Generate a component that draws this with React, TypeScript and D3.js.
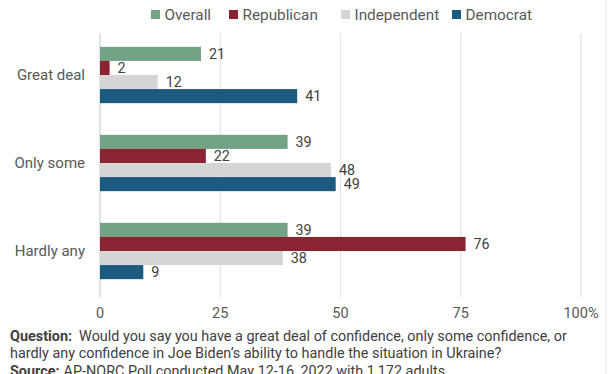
import React from "react";
import * as d3 from "d3";

const categories = ["Great deal", "Only some", "Hardly any"];
const seriesNames = ["Overall", "Republican", "Independent", "Democrat"];
const seriesColors = ["#72a387", "#8a2432", "#d5d5d5", "#1b5b80"];
const overall = [21, 39, 39];
const republican = [2, 22, 76];
const independent = [12, 48, 38];
const democrat = [41, 49, 9];
const tickValues = [0, 25, 50, 75, 100];
const tickLabels = ["0", "25", "50", "75", "100%"];

const W = 612;
const H = 374;
const font = "Roboto, 'Noto Sans', sans-serif";

export default function App() {
  const series = [overall, republican, independent, democrat];
  const x = d3.scaleLinear().domain([0, 100]).range([100, 581]);
  const y0 = d3.scaleBand().domain(categories).range([31, 295]).paddingInner(0.36).paddingOuter(0.18);
  const y1 = d3.scaleBand().domain(seriesNames).range([0, y0.bandwidth()]);

  const legendX = [151, 229, 341, 452];

  return (
    <svg width={W} height={H} style={{ position: "absolute", left: 0, top: 0, background: "#fff" }} fontFamily={font}>
      <rect x={0} y={0} width={W} height={H} fill="#fff" />
      {/* legend */}
      {seriesNames.map((s, i) => (
        <g key={s}>
          <rect x={legendX[i]} y={10} width={9} height={9} fill={seriesColors[i]} />
          <text x={legendX[i] + 13.5} y={19.5} fontSize={15.3} fill="#595959">{s}</text>
        </g>
      ))}
      {/* gridlines */}
      {tickValues.map((t) => (
        <line key={t} x1={x(t)} x2={x(t)} y1={33} y2={297} stroke={t === 0 ? "#d0d0d0" : "#e3e3e3"} strokeWidth={1.2} />
      ))}
      {/* tick labels */}
      {tickValues.map((t, i) => (
        <text key={t} x={x(t)} y={318} fontSize={14.5} fill="#595959" textAnchor="middle">
          {tickLabels[i]}
        </text>
      ))}
      {/* bars */}
      {categories.map((c, ci) => (
        <g key={c} transform={`translate(0,${y0(c)})`}>
          {series.map((vals, si) => {
            const v = vals[ci];
            const yy = y1(seriesNames[si])!;
            return (
              <g key={si}>
                <rect x={x(0)} y={yy} width={x(v) - x(0)} height={y1.bandwidth()} fill={seriesColors[si]} />
                <text x={x(v) + 8} y={yy + y1.bandwidth() / 2 + 5} fontSize={14.3} fill="#404040">{v}</text>
              </g>
            );
          })}
        </g>
      ))}
      {/* category labels */}
      {categories.map((c) => (
        <text key={c} x={85} y={y0(c)! + y0.bandwidth() / 2 + 5} fontSize={15} fill="#595959" textAnchor="end">{c}</text>
      ))}
      {/* footer */}
      <text x={10} y={341} fontSize={14.4} fill="#404040">
        <tspan fontWeight="bold">Question:</tspan>
        <tspan dx={7}>{"Would you say you have a great deal of confidence, only some confidence, or"}</tspan>
      </text>
      <text x={10} y={358} fontSize={14.4} fill="#404040">
        hardly any confidence in Joe Biden’s ability to handle the situation in Ukraine?
      </text>
      <text x={10} y={376} fontSize={14.4} fill="#404040">
        <tspan fontWeight="bold">Source:</tspan>
        <tspan dx={4}>{"AP-NORC Poll conducted May 12-16, 2022 with 1,172 adults."}</tspan>
      </text>
      <line x1={606} x2={606} y1={0} y2={H} stroke="#e8e8e8" />
    </svg>
  );
}
